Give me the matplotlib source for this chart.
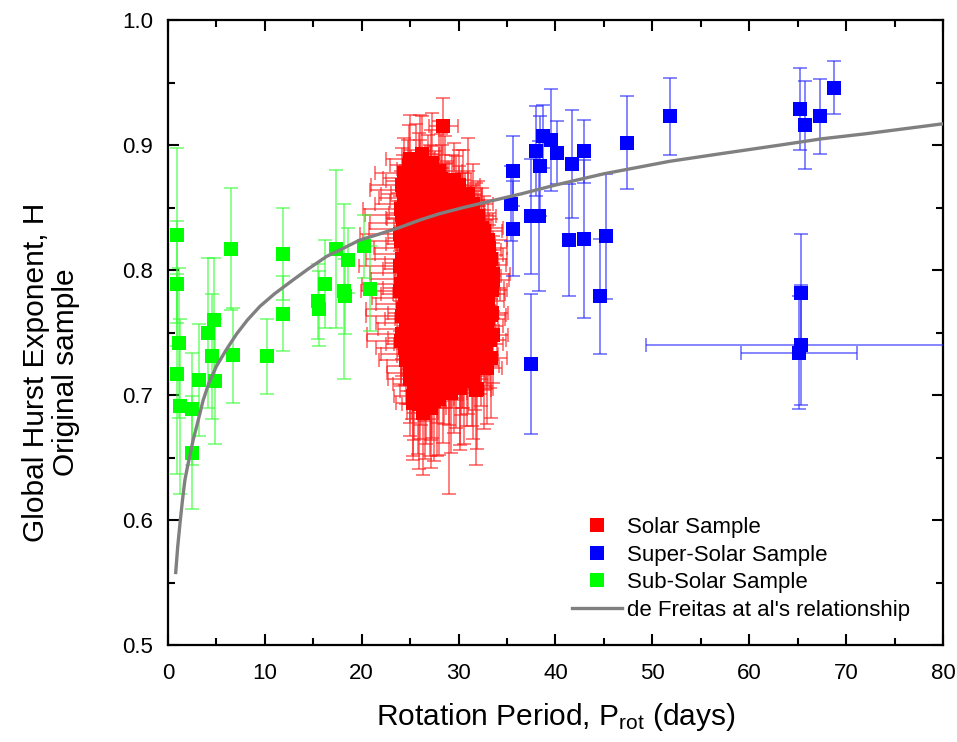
import matplotlib
matplotlib.use("Agg")
import matplotlib.pyplot as plt
from matplotlib.lines import Line2D
from matplotlib.ticker import MultipleLocator

plt.rcParams['font.family'] = ['Liberation Sans', 'DejaVu Sans']
plt.rcParams['mathtext.fontset'] = 'custom'
plt.rcParams['mathtext.rm'] = 'Liberation Sans'
plt.rcParams['mathtext.it'] = 'Liberation Sans:italic'

# ---------------- data ----------------
# Sub-solar sample (green)
green_x = [0.96, 0.96, 1.14, 0.96, 1.24, 2.45, 3.24, 2.5, 4.16, 4.75, 4.5, 4.85,
           6.5, 6.75, 10.25, 11.9, 11.9, 15.5, 15.6, 16.2, 17.3, 18.6, 18.2, 18.3,
           20.2, 20.9]
green_h = [0.828, 0.789, 0.742, 0.717, 0.691, 0.689, 0.712, 0.654, 0.750, 0.760,
           0.731, 0.711, 0.817, 0.732, 0.731, 0.813, 0.765, 0.775, 0.769, 0.789,
           0.817, 0.808, 0.783, 0.779, 0.819, 0.785]
green_herr = [0.070, 0.050, 0.060, 0.080, 0.070, 0.045, 0.045, 0.045, 0.060, 0.050,
              0.050, 0.050, 0.049, 0.038, 0.030, 0.037, 0.030, 0.030, 0.030, 0.035,
              0.063, 0.026, 0.070, 0.030, 0.025, 0.034]

# Super-solar sample (blue)
blue_x = [35.65, 35.4, 35.6, 37.5, 37.5, 38.3, 38.0, 38.4, 38.7, 39.5, 40.2, 41.7,
          41.4, 42.9, 42.9, 45.2, 44.6, 47.35, 51.8, 65.2, 65.8, 67.3, 68.75, 65.3,
          65.3, 65.15]
blue_h = [0.879, 0.853, 0.833, 0.725, 0.843, 0.843, 0.895, 0.883, 0.907, 0.904,
          0.894, 0.885, 0.824, 0.895, 0.825, 0.827, 0.779, 0.902, 0.923, 0.929,
          0.916, 0.923, 0.946, 0.782, 0.740, 0.734]
blue_herr = [0.028, 0.030, 0.038, 0.056, 0.046, 0.060, 0.036, 0.040, 0.025, 0.041,
             0.025, 0.043, 0.045, 0.025, 0.063, 0.050, 0.046, 0.037, 0.031, 0.033,
             0.035, 0.030, 0.021, 0.047, 0.048, 0.045]
blue_xerr = [0.5, 0.4, 0.5, 0.6, 0.5, 0.4, 0.5, 0.4, 0.5, 0.4, 0.5, 0.4,
             0.5, 0.4, 0.5, 0.4, 0.5, 0.4, 0.5, 0.6, 0.5, 0.4, 0.5, 0.3,
             16.0, 6.0]

# Solar sample (red)
red_x = [28.4,
         25.0, 26.2, 27.3,
         24.4, 25.6, 26.8, 28.0, 29.5,
         24.2, 25.1, 26.0, 27.2, 28.6, 30.0, 31.0,
         24.6, 25.5, 26.5, 27.6, 28.8, 29.7, 31.5,
         24.1, 25.0, 26.1, 27.0, 28.2, 29.2, 30.4, 32.0,
         24.5, 25.4, 26.6, 27.8, 28.9, 30.0, 31.2, 32.4,
         24.0, 25.2, 26.2, 27.3, 28.5, 29.6, 30.8, 32.0, 33.0,
         24.6, 25.7, 26.8, 27.9, 29.1, 30.3, 31.5, 32.6,
         24.2, 25.3, 26.4, 27.5, 28.7, 29.9, 31.0, 32.2, 33.3,
         24.4, 25.6, 26.7, 27.8, 29.0, 30.2, 31.4, 32.6, 33.5,
         24.1, 25.2, 26.3, 27.4, 28.6, 29.8, 31.0, 32.1, 33.2,
         24.5, 25.7, 26.9, 28.0, 29.3, 30.5, 31.7, 32.9,
         24.3, 25.4, 26.5, 27.6, 28.8, 30.0, 31.2, 32.4, 33.4,
         24.6, 25.8, 27.0, 28.2, 29.4, 30.6, 31.8, 33.0,
         24.2, 25.3, 26.4, 27.5, 28.7, 29.9, 31.1, 32.3, 33.5,
         24.5, 25.6, 26.8, 28.0, 29.2, 30.4, 31.6, 32.8,
         24.6, 25.7, 26.9, 28.1, 29.3, 30.5, 31.7, 33.3,
         25.0, 26.1, 27.3, 28.5, 29.7, 30.9, 32.9,
         25.4, 26.6, 27.8, 29.0, 30.1, 31.9,
         25.3, 26.5, 28.0, 30.1,
         25.3, 26.3, 27.2,
         # second, interleaved set
         24.9, 26.0, 27.1,
         24.8, 25.9, 27.0, 28.2,
         24.3, 25.2, 26.3, 27.4, 28.3, 29.3, 30.5,
         24.4, 25.3, 26.6, 27.7, 28.7, 30.0, 31.0,
         24.2, 25.1, 26.2, 27.4, 28.5, 29.6, 30.7, 31.8,
         24.3, 25.6, 26.8, 27.9, 29.1, 30.3, 31.5, 32.6,
         24.1, 25.2, 26.3, 27.4, 28.5, 29.7, 30.9, 32.1, 33.1,
         24.6, 25.8, 26.9, 28.1, 29.3, 30.5, 31.7, 32.8,
         24.0, 25.1, 26.2, 27.3, 28.4, 29.6, 30.8, 32.0, 33.1,
         24.6, 25.7, 26.8, 28.0, 29.2, 30.4, 31.6, 32.7, 33.6,
         24.0, 25.1, 26.3, 27.4, 28.6, 29.8, 31.1, 32.3, 33.4,
         24.8, 26.0, 27.1, 28.3, 29.5, 30.7, 31.9, 33.0,
         24.2, 25.2, 26.3, 27.5, 28.7, 29.9, 31.1, 32.3, 33.3,
         24.7, 25.9, 27.0, 28.2, 29.3, 30.5, 31.7, 32.9,
         24.1, 25.1, 26.2, 27.4, 28.6, 29.8, 31.0, 32.2, 33.2,
         24.9, 26.2, 27.4, 28.6, 29.8, 31.0, 32.3,
         25.2, 26.5, 27.8, 29.0, 30.2, 31.4, 32.6,
         25.0, 26.0, 27.2, 28.4, 29.5, 30.6, 31.5,
         25.8, 27.0, 29.2, 31.8,
         25.9, 27.5]
red_h = [0.915,
         0.889, 0.893, 0.886,
         0.878, 0.881, 0.876, 0.879, 0.872,
         0.868, 0.871, 0.866, 0.869, 0.865, 0.868, 0.861,
         0.858, 0.861, 0.856, 0.860, 0.857, 0.855, 0.853,
         0.849, 0.846, 0.851, 0.847, 0.850, 0.845, 0.848, 0.843,
         0.838, 0.841, 0.836, 0.839, 0.842, 0.835, 0.837, 0.834,
         0.829, 0.826, 0.831, 0.827, 0.830, 0.825, 0.828, 0.826, 0.824,
         0.818, 0.821, 0.816, 0.819, 0.822, 0.815, 0.818, 0.816,
         0.809, 0.806, 0.811, 0.807, 0.810, 0.805, 0.808, 0.806, 0.809,
         0.798, 0.801, 0.796, 0.799, 0.802, 0.795, 0.798, 0.801, 0.797,
         0.789, 0.786, 0.791, 0.787, 0.790, 0.785, 0.788, 0.791, 0.786,
         0.778, 0.781, 0.776, 0.779, 0.782, 0.775, 0.778, 0.781,
         0.769, 0.766, 0.771, 0.767, 0.770, 0.765, 0.768, 0.771, 0.766,
         0.758, 0.761, 0.756, 0.759, 0.762, 0.755, 0.758, 0.761,
         0.749, 0.746, 0.751, 0.747, 0.750, 0.745, 0.748, 0.751, 0.748,
         0.738, 0.741, 0.736, 0.739, 0.742, 0.735, 0.738, 0.741,
         0.728, 0.731, 0.726, 0.729, 0.732, 0.725, 0.728, 0.730,
         0.718, 0.721, 0.716, 0.719, 0.722, 0.715, 0.722,
         0.709, 0.711, 0.706, 0.709, 0.712, 0.705,
         0.699, 0.701, 0.697, 0.706,
         0.694, 0.686, 0.690,
         # second, interleaved set
         0.884, 0.886, 0.882,
         0.874, 0.876, 0.872, 0.873,
         0.864, 0.862, 0.865, 0.863, 0.866, 0.862, 0.860,
         0.853, 0.855, 0.852, 0.854, 0.851, 0.853, 0.851,
         0.844, 0.842, 0.845, 0.843, 0.846, 0.841, 0.844, 0.840,
         0.833, 0.835, 0.832, 0.834, 0.836, 0.831, 0.833, 0.831,
         0.823, 0.821, 0.824, 0.822, 0.825, 0.820, 0.823, 0.821, 0.818,
         0.813, 0.815, 0.812, 0.814, 0.816, 0.811, 0.813, 0.812,
         0.803, 0.801, 0.804, 0.802, 0.805, 0.800, 0.803, 0.801, 0.804,
         0.793, 0.795, 0.792, 0.794, 0.796, 0.791, 0.793, 0.795, 0.792,
         0.783, 0.781, 0.784, 0.782, 0.785, 0.780, 0.783, 0.781, 0.784,
         0.773, 0.775, 0.772, 0.774, 0.776, 0.771, 0.773, 0.775,
         0.763, 0.761, 0.764, 0.762, 0.765, 0.760, 0.763, 0.761, 0.764,
         0.753, 0.755, 0.752, 0.754, 0.756, 0.751, 0.753, 0.755,
         0.743, 0.741, 0.744, 0.742, 0.745, 0.740, 0.743, 0.741, 0.744,
         0.733, 0.735, 0.732, 0.734, 0.736, 0.731, 0.733,
         0.723, 0.725, 0.722, 0.724, 0.726, 0.721, 0.723,
         0.713, 0.715, 0.712, 0.714, 0.716, 0.711, 0.713,
         0.703, 0.705, 0.702, 0.704,
         0.693, 0.695]
red_xerr = [1.5,
            2.5, 1.8, 2.2,
            3.0, 2.0, 1.6, 2.4, 1.8,
            3.2, 2.6, 1.5, 2.0, 1.7, 2.2, 1.4,
            2.8, 3.5, 1.9, 1.6, 2.3, 1.5, 2.0,
            4.0, 2.2, 1.8, 2.6, 1.5, 2.1, 1.7, 1.9,
            3.6, 2.8, 1.6, 2.0, 1.8, 2.4, 1.5, 2.2,
            4.2, 2.5, 1.9, 2.2, 1.6, 2.0, 1.8, 1.5, 2.0,
            3.3, 2.1, 2.7, 1.7, 1.9, 1.6, 2.2, 1.8,
            3.8, 2.9, 1.8, 2.3, 1.6, 2.0, 1.5, 1.9, 1.7,
            3.5, 2.2, 2.6, 1.7, 2.1, 1.5, 1.9, 1.6, 1.8,
            4.1, 3.0, 1.9, 2.4, 1.7, 2.2, 1.6, 2.0, 1.5,
            3.4, 2.5, 2.0, 1.8, 1.6, 2.3, 1.7, 1.9,
            3.9, 2.7, 1.8, 2.2, 1.5, 2.0, 1.8, 1.6, 1.7,
            3.1, 2.4, 2.1, 1.7, 1.9, 1.6, 2.0, 1.8,
            3.7, 2.6, 1.9, 2.3, 1.6, 2.1, 1.5, 1.9, 1.6,
            3.0, 2.3, 2.0, 1.8, 1.7, 2.2, 1.6, 1.8,
            2.8, 2.1, 1.8, 1.6, 2.0, 1.5, 1.9, 1.7,
            2.4, 2.0, 1.7, 1.9, 1.5, 1.8, 1.6,
            2.2, 1.8, 1.6, 1.5, 1.9, 1.7,
            2.0, 1.7, 1.5, 1.8,
            1.8, 1.6, 1.5,
            # second, interleaved set
            2.0, 1.6, 1.9,
            2.6, 1.8, 2.1, 1.7,
            3.4, 2.2, 1.7, 2.5, 1.6, 2.0, 1.8,
            3.0, 2.4, 1.8, 2.1, 1.7, 2.3, 1.6,
            3.9, 2.6, 2.0, 1.7, 2.2, 1.6, 2.0, 1.8,
            3.5, 2.3, 1.9, 2.5, 1.7, 2.1, 1.6, 1.9,
            4.0, 2.7, 2.1, 1.8, 2.3, 1.6, 2.0, 1.7, 1.9,
            3.2, 2.2, 2.6, 1.8, 2.0, 1.7, 2.1, 1.8,
            4.3, 2.9, 2.0, 2.4, 1.7, 2.2, 1.6, 1.9, 1.8,
            3.6, 2.4, 2.8, 1.8, 2.0, 1.6, 1.9, 1.7, 1.6,
            4.1, 3.1, 1.8, 2.3, 1.6, 2.1, 1.7, 2.0, 1.6,
            3.3, 2.5, 2.2, 1.9, 1.7, 2.4, 1.8, 1.7,
            3.8, 2.8, 1.9, 2.1, 1.6, 2.0, 1.7, 1.8, 1.6,
            3.0, 2.3, 2.0, 1.8, 2.1, 1.6, 1.9, 1.7,
            3.6, 2.6, 2.0, 2.2, 1.7, 2.0, 1.6, 1.8, 1.7,
            2.9, 2.2, 1.9, 1.7, 2.0, 1.6, 1.8,
            2.6, 2.0, 1.8, 1.6, 1.9, 1.7, 1.6,
            2.3, 1.9, 1.7, 1.8, 1.6, 1.7, 1.5,
            1.9, 1.6, 1.7, 1.5,
            1.7, 1.6]
red_herr = [0.023,
            0.035, 0.030, 0.040,
            0.028, 0.036, 0.032, 0.040, 0.030,
            0.030, 0.025, 0.038, 0.030, 0.042, 0.028, 0.045,
            0.026, 0.032, 0.028, 0.035, 0.030, 0.036, 0.032,
            0.030, 0.025, 0.034, 0.028, 0.032, 0.026, 0.030, 0.028,
            0.028, 0.032, 0.026, 0.030, 0.034, 0.028, 0.030, 0.032,
            0.030, 0.028, 0.032, 0.026, 0.030, 0.034, 0.028, 0.030, 0.032,
            0.028, 0.032, 0.030, 0.026, 0.034, 0.030, 0.028, 0.032,
            0.030, 0.028, 0.032, 0.030, 0.026, 0.034, 0.028, 0.030, 0.032,
            0.032, 0.028, 0.030, 0.034, 0.026, 0.030, 0.032, 0.028, 0.030,
            0.028, 0.032, 0.030, 0.026, 0.034, 0.030, 0.028, 0.032, 0.030,
            0.030, 0.034, 0.028, 0.032, 0.030, 0.026, 0.034, 0.030,
            0.032, 0.028, 0.034, 0.030, 0.036, 0.028, 0.032, 0.030, 0.034,
            0.030, 0.034, 0.036, 0.032, 0.038, 0.030, 0.034, 0.036,
            0.034, 0.036, 0.032, 0.038, 0.034, 0.040, 0.036, 0.032, 0.038,
            0.030, 0.035, 0.040, 0.032, 0.038, 0.045, 0.036, 0.034,
            0.035, 0.040, 0.045, 0.038, 0.042, 0.035, 0.040, 0.048,
            0.040, 0.045, 0.050, 0.042, 0.048, 0.040, 0.045,
            0.045, 0.050, 0.055, 0.088, 0.052, 0.048,
            0.048, 0.052, 0.045, 0.050,
            0.046, 0.050, 0.048,
            # second, interleaved set
            0.032, 0.038, 0.030,
            0.030, 0.034, 0.028, 0.036,
            0.028, 0.032, 0.030, 0.026, 0.034, 0.030, 0.036,
            0.030, 0.026, 0.032, 0.028, 0.034, 0.030, 0.028,
            0.028, 0.030, 0.026, 0.032, 0.030, 0.028, 0.034, 0.030,
            0.030, 0.028, 0.032, 0.030, 0.026, 0.032, 0.030, 0.028,
            0.032, 0.030, 0.028, 0.034, 0.030, 0.026, 0.032, 0.030, 0.028,
            0.030, 0.032, 0.028, 0.030, 0.034, 0.028, 0.030, 0.032,
            0.028, 0.030, 0.032, 0.028, 0.030, 0.034, 0.030, 0.028, 0.032,
            0.030, 0.032, 0.028, 0.030, 0.034, 0.030, 0.028, 0.032, 0.030,
            0.032, 0.030, 0.034, 0.030, 0.028, 0.032, 0.030, 0.034, 0.030,
            0.030, 0.034, 0.032, 0.036, 0.030, 0.034, 0.032, 0.030,
            0.034, 0.032, 0.036, 0.030, 0.034, 0.038, 0.032, 0.036, 0.034,
            0.036, 0.034, 0.038, 0.032, 0.036, 0.040, 0.034, 0.038,
            0.036, 0.038, 0.040, 0.034, 0.038, 0.042, 0.036, 0.040, 0.038,
            0.040, 0.042, 0.038, 0.044, 0.040, 0.046, 0.042,
            0.042, 0.046, 0.044, 0.048, 0.042, 0.046, 0.050,
            0.046, 0.050, 0.048, 0.052, 0.046, 0.050, 0.048,
            0.050, 0.054, 0.048, 0.060,
            0.052, 0.048]

# de Freitas et al.'s relationship
curve_p = [0.8, 1.0, 1.25, 1.5, 1.75, 2.0, 2.6, 3.0, 3.64, 4.2, 5.0, 6.0, 7.1,
           8.2, 9.5, 11.0, 12.9, 14.5, 16.4, 18.0, 19.8, 21.5, 23.9, 26.0, 28.0,
           30.5, 33.2, 36.5, 40.0, 45.0, 51.8, 57.0, 63.2, 67.5, 72.0, 76.0, 80.0]
curve_h = [0.558, 0.578, 0.598, 0.616, 0.632, 0.642, 0.664, 0.676, 0.696, 0.709,
           0.723, 0.736, 0.749, 0.760, 0.771, 0.781, 0.792, 0.801, 0.811, 0.817,
           0.824, 0.828, 0.834, 0.840, 0.845, 0.850, 0.855, 0.861, 0.868, 0.877,
           0.887, 0.893, 0.900, 0.905, 0.909, 0.913, 0.917]

labels = ["Solar Sample", "Super-Solar Sample", "Sub-Solar Sample",
          "de Freitas at al's relationship"]

# ---------------- figure ----------------
fig = plt.figure(figsize=(9.57, 7.42), dpi=100)
ax = fig.add_axes([0.1755, 0.1307, 0.8099, 0.8423])

ms = 10.5
ekw = dict(elinewidth=1.3, capsize=5, capthick=1.3, markersize=ms)
eb_r = ax.errorbar(red_x, red_h, xerr=red_xerr, yerr=red_herr, fmt='s', color='#ff0000',
                   ecolor=(1, 0.1, 0.1, 0.6), zorder=2, **ekw)
eb_b = ax.errorbar(blue_x, blue_h, xerr=blue_xerr, yerr=blue_herr, fmt='s', color='#0000ff',
                   ecolor=(0.15, 0.15, 1, 0.6), zorder=3, **ekw)
eb_g = ax.errorbar(green_x, green_h, yerr=green_herr, fmt='s', color='#00ff00',
                   ecolor=(0.2, 1, 0.2, 0.6), zorder=4, **ekw)
for eb in (eb_r, eb_b, eb_g):
    eb[0].set_markeredgewidth(0)
ax.plot(curve_p, curve_h, color='#808080', lw=2.4, zorder=5)

ax.set_xlim(0, 80)
ax.set_ylim(0.5, 1.0)
ax.xaxis.set_major_locator(MultipleLocator(10))
ax.xaxis.set_minor_locator(MultipleLocator(5))
ax.yaxis.set_major_locator(MultipleLocator(0.1))
ax.yaxis.set_minor_locator(MultipleLocator(0.05))
ax.yaxis.set_major_formatter(plt.FormatStrFormatter('%.1f'))
ax.tick_params(which='both', direction='in', top=True, right=True, width=1.5,
               labelsize=16, colors='black')
ax.tick_params(which='major', length=8)
ax.tick_params(which='minor', length=5)
ax.tick_params(axis='x', which='major', pad=13)
ax.tick_params(axis='y', which='major', pad=10.5)
for s in ax.spines.values():
    s.set_linewidth(1.6)

ax.set_xlabel(r"Rotation Period, P$_{\rm rot}$ (days)", fontsize=21.5, labelpad=12)
ax.set_ylabel("Global Hurst Exponent, H\nOriginal sample", fontsize=21.5,
              linespacing=1.1)
ax.yaxis.set_label_coords(-0.113, 0.437)

handles = [Line2D([], [], marker='s', color='#ff0000', ls='none', markersize=ms, mew=0),
           Line2D([], [], marker='s', color='#0000ff', ls='none', markersize=ms, mew=0),
           Line2D([], [], marker='s', color='#00ff00', ls='none', markersize=ms, mew=0),
           Line2D([], [], color='#808080', lw=2.4)]
leg = ax.legend(handles, labels, loc='upper left', bbox_to_anchor=(0.521, 0.205),
                frameon=False, fontsize=16, handlelength=2.25, handletextpad=0.25,
                labelspacing=0.3, borderpad=0, borderaxespad=0)
leg.set_zorder(10)

fig.savefig("out.png", dpi=100)
